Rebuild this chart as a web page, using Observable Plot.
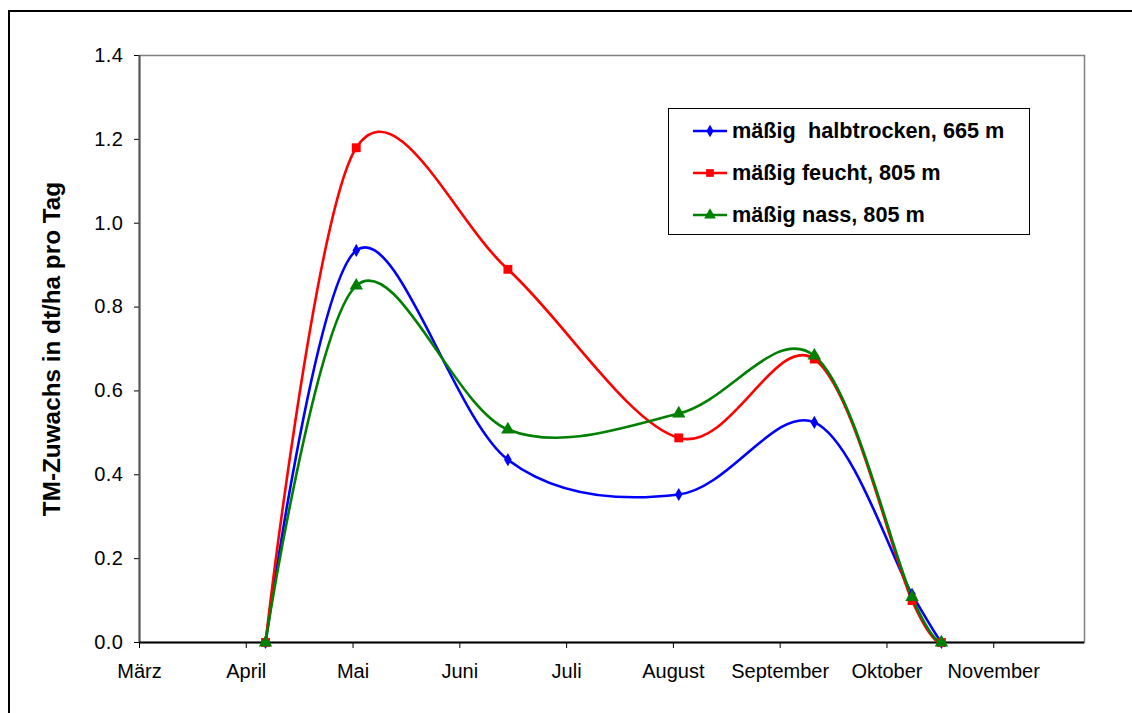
<!DOCTYPE html>
<html><head><meta charset="utf-8">
<script src="https://cdn.jsdelivr.net/npm/d3@7"></script>
<script src="https://cdn.jsdelivr.net/npm/@observablehq/plot@0.6"></script>
<style>
body{margin:0;background:#fff;}
#wrap{position:relative;width:1132px;height:713px;overflow:hidden;font-family:Arial,"Liberation Sans",sans-serif;}
#border{position:absolute;left:8px;top:10px;width:1130px;height:720px;border:2px solid #000;box-sizing:border-box;pointer-events:none;}
#chart{position:absolute;left:0;top:0;}
#legend{position:absolute;left:668px;top:108px;width:362px;height:127px;border:1.5px solid #000;box-sizing:border-box;background:#fff;}
#legend .row{position:absolute;left:24px;height:28px;display:flex;align-items:center;font-weight:bold;font-size:21.7px;color:#000;white-space:pre;}
#legend svg{margin-right:5px;}
g[aria-label="y-axis tick label"] text{letter-spacing:0.5px;}
</style></head><body><div id="wrap"><div id="chart"></div><div id="legend"></div><div id="border"></div></div>
<script>
const months = ["März","April","Mai","Juni","Juli","August","September","Oktober","November"];
const monthIndex = [0,1,2,3,4,5,6,7,8];
const samplePos = [1.18, 2.03, 3.45, 5.05, 6.32, 7.235, 7.51];
const seriesNames = ["mäßig  halbtrocken, 665 m","mäßig feucht, 805 m","mäßig nass, 805 m"];
const halbtrocken = [0, 0.935, 0.436, 0.353, 0.525, 0.115, 0];
const feucht = [0, 1.18, 0.89, 0.488, 0.676, 0.100, 0];
const nass = [0, 0.851, 0.508, 0.546, 0.684, 0.108, 0];
const yTicks = [0,0.2,0.4,0.6,0.8,1.0,1.2,1.4];
const colors = ["#0000ff","#ff0000","#008000"];
const symbols = ["diamond","square","triangle"];
const symbolR = [4, 5, 5];
const yTitle = "TM-Zuwachs in dt/ha pro Tag";

const seriesValues = [halbtrocken, feucht, nass];
const data = [];
seriesValues.forEach((vals, s) => vals.forEach((v, i) => data.push({series: seriesNames[s], x: samplePos[i], y: v})));

const marks = [
  Plot.frame({stroke: "#808080", strokeWidth: 1.5}),
  Plot.axisY({ticks: yTicks, tickFormat: d3.format(".1f"), tickSize: 5, tickPadding: 11, label: null, stroke: "#000", fontSize: 20}),
  Plot.axisX({ticks: monthIndex, tickFormat: i => months[i], tickSize: 6, tickPadding: 15, label: null, fontSize: 20}),
  Plot.ruleX([0], {stroke: "#555", strokeWidth: 2}),
  Plot.ruleY([0], {stroke: "#000", strokeWidth: 2}),
  Plot.text([yTitle], {frameAnchor: "left", textAnchor: "middle", rotate: -90, dx: -87, fontWeight: "bold", fontSize: 24.3})
];
seriesNames.forEach((name, s) => {
  const d = data.filter(r => r.series === name);
  marks.push(Plot.line(d, {x: "x", y: "y", stroke: colors[s], strokeWidth: 2.6, curve: "cardinal"}));
});
seriesNames.forEach((name, s) => {
  const d = data.filter(r => r.series === name);
  marks.push(Plot.dot(d, {x: "x", y: "y", fill: colors[s], stroke: "none", symbol: () => symbols[s], r: symbolR[s]}));
});

const chart = Plot.plot({
  width: 1132, height: 713,
  marginLeft: 139, marginRight: 48, marginTop: 55, marginBottom: 71,
  x: {domain: [0, 8.85]},
  y: {domain: [0, 1.4]},
  style: {fontFamily: "Arial, 'Liberation Sans', sans-serif", fontSize: "20px", color: "#000", background: "#fff"},
  marks
});
document.getElementById("chart").appendChild(chart);

const legend = d3.select("#legend");
const rowTops = [8, 50, 92];
seriesNames.forEach((name, s) => {
  const row = legend.append("div").attr("class", "row").style("top", rowTops[s] + "px");
  const svg = row.append("svg").attr("width", 34).attr("height", 14);
  svg.append("line").attr("x1", 0).attr("x2", 34).attr("y1", 7).attr("y2", 7).attr("stroke", colors[s]).attr("stroke-width", 2.6);
  svg.append("path").attr("transform", "translate(17,7)").attr("d", d3.symbol(s === 0 ? d3.symbolDiamond : s === 1 ? d3.symbolSquare : d3.symbolTriangle, s === 0 ? 45 : 60)()).attr("fill", colors[s]);
  row.append("span").text(name);
});
</script>
</body></html>
